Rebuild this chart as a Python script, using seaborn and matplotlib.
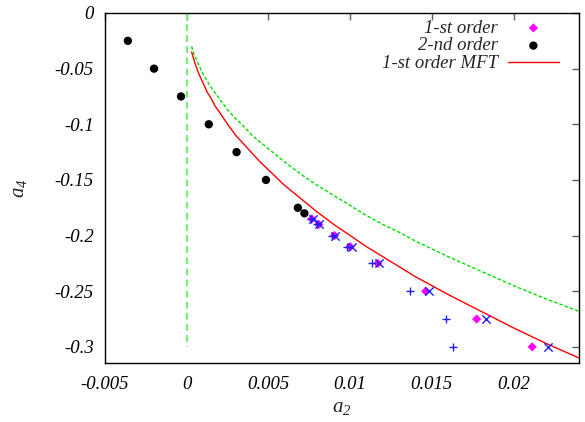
import matplotlib
matplotlib.use('Agg')
import matplotlib.pyplot as plt
import seaborn as sns

# 1-st order points (magenta diamonds)
first_a2 = [0.00765, 0.00808, 0.00904, 0.0100, 0.01169, 0.01462, 0.01774, 0.02114]
first_a4 = [-0.185, -0.19, -0.2, -0.21, -0.225, -0.25, -0.275, -0.3]

# 2-nd order points (black circles)
second_a2 = [-0.0036, -0.0020, -0.00035, 0.00135, 0.00305, 0.00485, 0.0068, 0.0072]
second_a4 = [-0.025, -0.05, -0.075, -0.1, -0.125, -0.15, -0.175, -0.18]

# extra blue series without legend entries
plus_a2 = [0.0076, 0.0080, 0.0089, 0.0098, 0.01132, 0.01369, 0.01589, 0.01632]
plus_a4 = [-0.185, -0.19, -0.2, -0.21, -0.225, -0.25, -0.275, -0.3]
cross_a2 = [0.0077, 0.0081, 0.0091, 0.0101, 0.01175, 0.01485, 0.01829, 0.02208]
cross_a4 = [-0.185, -0.19, -0.2, -0.21, -0.225, -0.25, -0.275, -0.3]

# curves
curve_a2 = [0.0003, 0.0004, 0.0005, 0.00075, 0.001, 0.00125, 0.0015, 0.00175, 0.002,
            0.0025, 0.003, 0.0035, 0.004, 0.0045, 0.005, 0.006, 0.007, 0.008, 0.009,
            0.010, 0.011, 0.012, 0.013, 0.014, 0.016, 0.018, 0.020, 0.022, 0.024]
mft_a4 = [-0.035, -0.040, -0.045, -0.055, -0.063, -0.071, -0.077, -0.084, -0.089,
          -0.100, -0.110, -0.118, -0.126, -0.134, -0.141, -0.155, -0.167, -0.179, -0.190,
          -0.200, -0.210, -0.219, -0.228, -0.237, -0.253, -0.268, -0.283, -0.297, -0.310]
green_a4 = [-0.030, -0.035, -0.039, -0.047, -0.055, -0.061, -0.067, -0.072, -0.077,
            -0.087, -0.095, -0.102, -0.110, -0.116, -0.122, -0.134, -0.145, -0.155, -0.164,
            -0.173, -0.182, -0.190, -0.197, -0.205, -0.219, -0.232, -0.245, -0.257, -0.268]
vline_a2 = [0.0, 0.0]
vline_a4 = [0.0, -0.3]

xticks = [-0.005, 0, 0.005, 0.01, 0.015, 0.02]
xtick_labels = ["-0.005", "0", "0.005", "0.01", "0.015", "0.02"]
yticks = [0, -0.05, -0.1, -0.15, -0.2, -0.25, -0.3]
ytick_labels = ["0", "-0.05", "-0.1", "-0.15", "-0.2", "-0.25", "-0.3"]

sns.set_theme(style='white')
plt.rcParams['font.family'] = ['Liberation Serif', 'DejaVu Serif']
plt.rcParams['font.style'] = 'italic'
plt.rcParams['mathtext.fontset'] = 'custom'
plt.rcParams['mathtext.it'] = 'Liberation Serif:italic'
plt.rcParams['mathtext.rm'] = 'Liberation Serif:italic'

fig = plt.figure(figsize=(5.85, 4.22), dpi=100)
ax = fig.add_axes([0.1795, 0.1398, 0.8102, 0.8294])

sns.lineplot(x=vline_a2, y=vline_a4, ax=ax, color='#77ee77', lw=1.6,
             linestyle=(0, (3, 2)), sort=False, estimator=None)
sns.lineplot(x=curve_a2, y=green_a4, ax=ax, color='#00e000', lw=1,
             linestyle=(0, (2.5, 1.5)), sort=False, estimator=None)
sns.lineplot(x=curve_a2, y=mft_a4, ax=ax, color='#ff0000', lw=1,
             sort=False, estimator=None, label='1-st order MFT')

sns.scatterplot(x=first_a2, y=first_a4, ax=ax, marker='D', s=22, color='#ff00ff',
                edgecolor='none', label='1-st order', zorder=3)
sns.scatterplot(x=second_a2, y=second_a4, ax=ax, marker='o', s=36, color='black',
                edgecolor='none', label='2-nd order', zorder=3)
sns.scatterplot(x=plus_a2, y=plus_a4, ax=ax, marker='+', s=40, color='#2020ff',
                linewidth=1, zorder=4)
sns.scatterplot(x=cross_a2, y=cross_a4, ax=ax, marker='x', s=36, color='#2020ff',
                linewidth=1, zorder=4)

ax.set_xlim(-0.005, 0.024)
ax.set_ylim(-0.3145, 0)
ax.set_xticks(xticks)
ax.set_xticklabels(xtick_labels)
ax.set_yticks(yticks)
ax.set_yticklabels(ytick_labels)
ax.tick_params(direction='in', length=5, width=1, top=True, right=True,
               labelsize=13.5, pad=8)
ax.tick_params(axis='x', pad=9)
ax.tick_params(color='#606060', labelcolor='black')
for sp in ax.spines.values():
    sp.set_color('black')
    sp.set_linewidth(1)

ax.set_xlabel(r'$\mathit{a_2}$', fontsize=15)
ax.set_ylabel(r'$\mathit{a_4}$', fontsize=15)
ax.xaxis.set_label_coords(0.5, -0.1)
ax.yaxis.set_label_coords(-0.16, 0.5)

handles, labels = ax.get_legend_handles_labels()
order = [labels.index(n) for n in ['1-st order', '2-nd order', '1-st order MFT']]
ax.legend([handles[i] for i in order], [labels[i] for i in order],
          loc='upper right', bbox_to_anchor=(0.975, 1.005), frameon=False,
          markerfirst=False, fontsize=13.5, handlelength=2.7, handletextpad=0.55,
          labelspacing=0.03, borderaxespad=0.2, borderpad=0.25)

fig.savefig('out.png', dpi=100)
